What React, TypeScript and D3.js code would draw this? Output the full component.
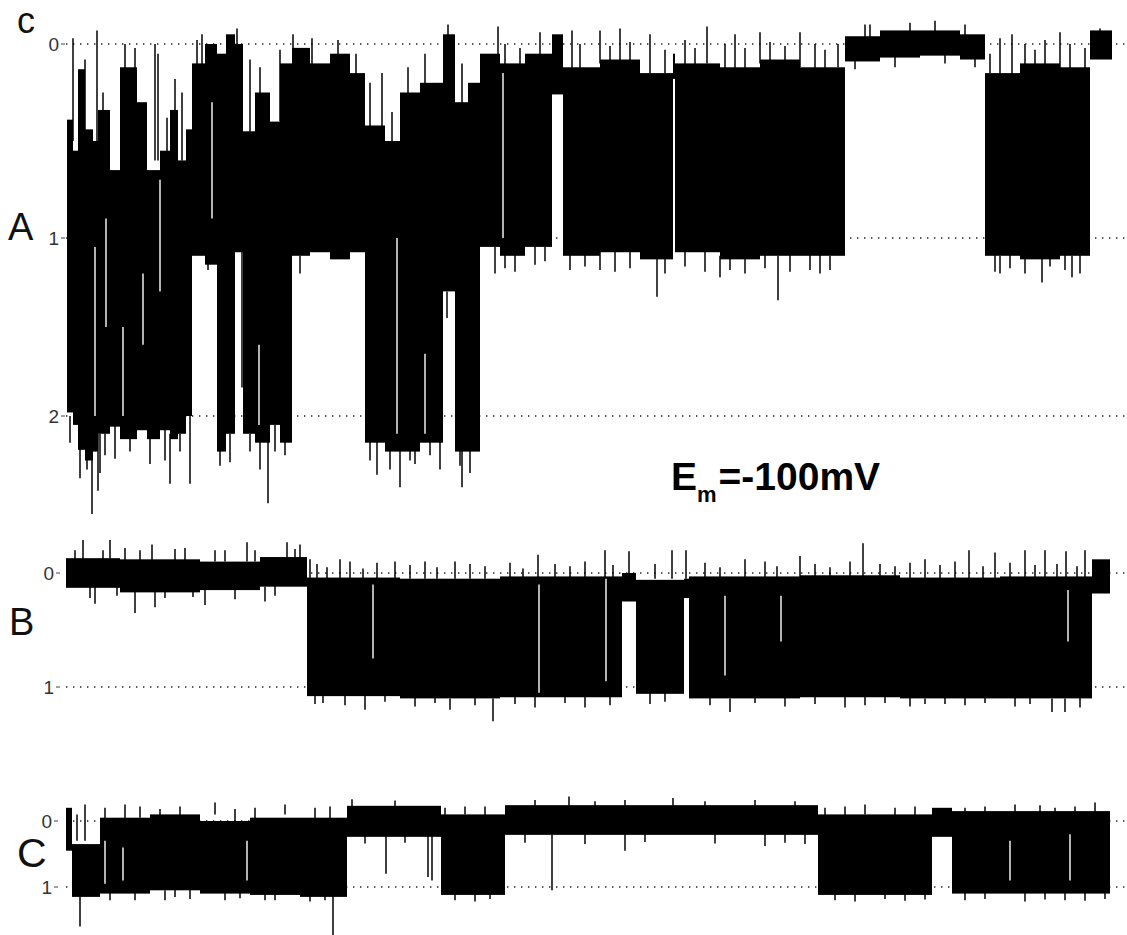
import React from "react";
import * as d3 from "d3";

// time axis (ms), shared by all three recordings
const timeDomain = [0, 1050];

// ---- Recording A : dwell blocks [t0, t1, upper level, lower level]
const aBlocks: number[][] = [
  [2, 8, 0.39, 1.98], [8, 13, 0.55, 2.05], [13, 20, 0.13, 2.19], [20, 28, 0.44, 2.25],
  [28, 33, 0.5, 2.2], [33, 45, 0.34, 2.1], [45, 55, 0.65, 2.06], [55, 72, 0.12, 2.13],
  [72, 82, 0.3, 2.08], [82, 95, 0.65, 2.13], [95, 105, 0.55, 2.08], [105, 113, 0.34, 2.13],
  [113, 121, 0.6, 2.1], [121, 127, 0.44, 2.0], [127, 140, 0.1, 1.1], [140, 152, 0.0, 1.15],
  [152, 161, 0.05, 2.2], [161, 170, -0.05, 2.1], [170, 178, 0.0, 1.08], [178, 190, 0.45, 2.1],
  [190, 205, 0.25, 2.15], [205, 215, 0.4, 2.05], [215, 227, 0.1, 2.15], [227, 245, 0.02, 1.1],
  [245, 265, 0.1, 1.08], [265, 285, 0.05, 1.12], [285, 300, 0.15, 1.08], [300, 320, 0.42, 2.15],
  [320, 335, 0.5, 2.2], [335, 355, 0.25, 2.2], [355, 378, 0.2, 2.15], [378, 390, -0.05, 1.3],
  [390, 403, 0.3, 2.2], [403, 415, 0.2, 2.2], [415, 435, 0.05, 1.05], [435, 460, 0.1, 1.1],
  [460, 487, 0.05, 1.05], [487, 498, -0.05, 0.26], [498, 535, 0.12, 1.1], [535, 575, 0.08, 1.08],
  [575, 608, 0.15, 1.12], [608, 610, 0.05, 0.18], [610, 655, 0.1, 1.08], [655, 695, 0.12, 1.12],
  [695, 735, 0.08, 1.1], [735, 780, 0.12, 1.1], [780, 815, -0.04, 0.09], [815, 855, -0.07, 0.07],
  [855, 895, -0.07, 0.06], [895, 920, -0.05, 0.08], [920, 955, 0.15, 1.1], [955, 995, 0.1, 1.12],
  [995, 1025, 0.12, 1.1], [1025, 1047, -0.07, 0.08],
];
// brief excursions beyond the band [t, from, to]
const aSpikes: number[][] = [
  [8, 0.5, -0.03], [20, 0.5, 0.08], [32, 0.5, -0.07], [38, 0.4, 0.25], [60, 0.2, 0.0],
  [70, 0.3, 0.02], [90, 0.6, 0.0], [93, 0.6, 0.05], [102, 0.6, 0.38], [110, 0.4, 0.18],
  [117, 0.6, 0.25], [132, 0.2, -0.02], [137, 0.2, -0.05], [172, 0.1, -0.08], [185, 0.5, 0.08],
  [195, 0.3, 0.12], [215, 0.4, 0.03], [228, 0.1, -0.05], [247, 0.15, -0.03], [273, 0.1, -0.02],
  [291, 0.2, 0.05], [305, 0.45, 0.2], [317, 0.45, 0.15], [327, 0.5, 0.35], [343, 0.3, 0.12],
  [360, 0.25, 0.05], [383, 0.0, -0.1], [397, 0.35, 0.1], [433, 0.1, -0.09], [475, 0.1, -0.06],
  [507, 0.15, -0.07], [535, 0.1, -0.07], [555, 0.1, -0.08], [585, 0.15, -0.05], [642, 0.1, -0.09],
  [670, 0.15, -0.05], [695, 0.1, -0.06], [735, 0.12, -0.06], [773, 0.12, 0.0], [805, 0.0, -0.1],
  [870, 0.0, -0.12], [935, 0.2, -0.03], [947, 0.2, -0.05], [980, 0.15, -0.02], [995, 0.15, -0.06],
  [1035, 0.0, -0.08],
  [15, 2.1, 2.35], [27, 2.2, 2.55], [33, 2.1, 2.42], [35, 2.1, 2.32], [105, 2.1, 2.38],
  [125, 2.0, 2.38], [143, 1.1, 1.18], [177, 1.05, 1.84], [203, 2.1, 2.49], [220, 2.1, 2.22],
  [235, 1.1, 1.2], [312, 2.1, 2.33], [335, 2.1, 2.4], [345, 2.1, 2.25], [375, 2.1, 2.3],
  [382, 1.3, 1.45], [397, 2.1, 2.4], [405, 2.1, 2.32], [430, 1.05, 1.2], [480, 1.05, 1.13],
  [535, 1.05, 1.18], [592, 1.1, 1.33], [655, 1.1, 1.22], [713, 1.1, 1.35], [765, 1.1, 1.18],
  [935, 1.1, 1.2], [977, 1.1, 1.25], [1007, 1.1, 1.22],
];
// smaller excursions along the edges of the bands [t, from, to]
const aFringe: number[][] = [
  [440, 1.05, 1.17], [450, 1.05, 1.19], [470, 1.0, 1.15], [505, 1.05, 1.18], [520, 1.05, 1.16],
  [550, 1.05, 1.19], [565, 1.05, 1.17], [600, 1.05, 1.2], [620, 1.05, 1.16], [640, 1.05, 1.19],
  [665, 1.05, 1.18], [680, 1.05, 1.2], [700, 1.05, 1.17], [725, 1.05, 1.19], [745, 1.05, 1.18],
  [755, 1.05, 1.2], [930, 1.05, 1.19], [945, 1.05, 1.17], [960, 1.05, 1.2], [985, 1.05, 1.16],
  [1000, 1.05, 1.18], [1015, 1.05, 1.2],
  [440, 0.15, 0.0], [455, 0.15, 0.02], [490, 0.1, -0.02], [515, 0.15, 0.0], [545, 0.15, 0.01],
  [565, 0.15, -0.01], [600, 0.15, 0.03], [620, 0.15, -0.02], [630, 0.15, 0.02], [660, 0.15, 0.0],
  [680, 0.15, 0.02], [705, 0.15, -0.01], [720, 0.15, 0.01], [750, 0.15, 0.0], [760, 0.15, 0.03],
  [925, 0.15, 0.05], [960, 0.15, 0.0], [970, 0.15, 0.03], [1005, 0.15, 0.0], [1020, 0.15, 0.02],
  [5, 2.0, 2.15], [22, 2.1, 2.3], [40, 2.1, 2.22], [50, 2.05, 2.24], [65, 2.1, 2.2],
  [85, 2.1, 2.27], [100, 2.05, 2.25], [115, 2.1, 2.2], [155, 2.1, 2.28], [165, 2.1, 2.26],
  [185, 2.1, 2.2], [195, 2.1, 2.3], [210, 2.05, 2.2], [305, 2.1, 2.25], [325, 2.1, 2.3],
  [350, 2.1, 2.27], [365, 2.1, 2.22], [395, 2.1, 2.28],
  [790, 0.05, 0.13], [800, -0.03, -0.1], [830, 0.05, 0.12], [845, -0.05, -0.11], [880, 0.05, 0.1],
  [900, -0.03, -0.1], [910, 0.05, 0.12],
];
// brief closings inside a band [t, from, to]
const aGaps: number[][] = [
  [30, 1.05, 2.0], [41, 0.9, 1.5], [58, 1.5, 2.0], [78, 1.2, 1.6], [95, 0.7, 1.3],
  [147, 0.3, 0.9], [194, 1.6, 2.05], [332, 1.0, 2.1], [360, 1.65, 2.1], [438, 0.15, 1.0],
];

// ---- Recording B
const bBlocks: number[][] = [
  [1, 55, -0.13, 0.13], [55, 135, -0.12, 0.17], [135, 195, -0.1, 0.15], [195, 242, -0.14, 0.12],
  [242, 335, 0.04, 1.08], [335, 435, 0.05, 1.1], [435, 557, 0.03, 1.09], [557, 571, 0.0, 0.25],
  [571, 619, 0.06, 1.06], [619, 624, 0.05, 0.22], [624, 735, 0.03, 1.1], [735, 835, 0.02, 1.09],
  [835, 935, 0.04, 1.1], [935, 1027, 0.03, 1.1], [1027, 1045, -0.12, 0.18],
];
const bSpikes: number[][] = [
  [18, -0.1, -0.29], [45, -0.1, -0.29], [60, -0.1, -0.22], [87, -0.1, -0.25], [120, -0.1, -0.22],
  [160, -0.1, -0.2], [182, -0.1, -0.27], [222, -0.1, -0.27], [235, -0.1, -0.25],
  [30, 0.12, 0.27], [70, 0.15, 0.35], [90, 0.15, 0.3], [140, 0.15, 0.28], [200, 0.12, 0.25],
  [245, 0.05, -0.12], [275, 0.05, -0.12], [330, 0.05, -0.1], [390, 0.05, -0.1], [473, 0.05, -0.16],
  [540, 0.05, -0.2], [564, 0.0, -0.19], [607, 0.05, -0.2], [621, 0.05, -0.2], [680, 0.05, -0.12],
  [735, 0.05, -0.15], [798, 0.05, -0.26], [860, 0.05, -0.12], [904, 0.05, -0.2], [930, 0.05, -0.18],
  [960, 0.05, -0.2], [980, 0.05, -0.2], [1001, 0.05, -0.19], [1020, 0.05, -0.2],
  [250, 1.08, 1.15], [300, 1.08, 1.2], [385, 1.1, 1.2], [428, 1.1, 1.3], [520, 1.08, 1.18],
  [665, 1.1, 1.22], [780, 1.08, 1.18], [860, 1.1, 1.15], [987, 1.1, 1.22], [1000, 1.1, 1.22],
];
const bFringe: number[][] = [
  [252, 0.05, -0.08], [262, 0.05, -0.05], [285, 0.05, -0.1], [298, 0.05, -0.04], [312, 0.05, -0.09],
  [345, 0.05, -0.07], [360, 0.05, -0.1], [372, 0.05, -0.05], [405, 0.05, -0.08], [420, 0.05, -0.06],
  [445, 0.05, -0.09], [458, 0.05, -0.04], [490, 0.05, -0.08], [505, 0.05, -0.06], [520, 0.05, -0.1],
  [548, 0.05, -0.07], [590, 0.05, -0.08], [640, 0.05, -0.09], [655, 0.05, -0.05], [700, 0.05, -0.1],
  [712, 0.05, -0.06], [750, 0.05, -0.08], [765, 0.05, -0.05], [785, 0.05, -0.1], [815, 0.05, -0.08],
  [830, 0.05, -0.06], [845, 0.05, -0.09], [875, 0.05, -0.07], [890, 0.05, -0.1], [918, 0.05, -0.06],
  [945, 0.05, -0.09], [970, 0.05, -0.07], [992, 0.05, -0.08], [1012, 0.05, -0.06],
  [258, 1.05, 1.14], [280, 1.05, 1.16], [320, 1.05, 1.13], [350, 1.05, 1.17], [370, 1.05, 1.14],
  [410, 1.05, 1.16], [450, 1.05, 1.15], [470, 1.05, 1.18], [500, 1.05, 1.14], [545, 1.05, 1.16],
  [585, 1.05, 1.15], [600, 1.05, 1.13], [645, 1.05, 1.16], [690, 1.05, 1.14], [720, 1.05, 1.17],
  [750, 1.05, 1.15], [800, 1.05, 1.16], [820, 1.05, 1.14], [845, 1.05, 1.17], [880, 1.05, 1.15],
  [900, 1.05, 1.16], [920, 1.05, 1.14], [950, 1.05, 1.17], [965, 1.05, 1.15], [1015, 1.05, 1.18],
  [10, -0.1, -0.2], [25, 0.1, 0.22], [38, -0.1, -0.2], [52, 0.1, 0.2], [75, -0.1, -0.2],
  [100, 0.1, 0.22], [110, -0.1, -0.21], [128, 0.1, 0.21], [150, -0.1, -0.2], [170, 0.1, 0.23],
  [190, -0.1, -0.2], [210, 0.1, 0.2], [230, -0.1, -0.21],
];
const bGaps: number[][] = [
  [308, 0.1, 0.75], [474, 0.1, 1.05], [541, 0.05, 0.95], [660, 0.2, 0.9], [716, 0.2, 0.6],
  [1003, 0.15, 0.6],
];

// ---- Recording C
const cBlocks: number[][] = [
  [1, 7, -0.2, 0.45], [7, 35, 0.35, 1.15], [35, 85, -0.05, 1.1], [85, 135, -0.1, 1.05],
  [135, 185, 0.0, 1.1], [185, 235, -0.05, 1.12], [235, 282, -0.05, 1.15], [282, 376, -0.23, 0.24],
  [376, 440, -0.1, 1.12], [440, 753, -0.24, 0.21], [753, 867, -0.1, 1.12], [867, 887, -0.2, 0.24],
  [887, 1045, -0.15, 1.1],
];
const cSpikes: number[][] = [
  [15, 1.1, 1.6], [268, 1.1, 1.73], [321, 0.2, 0.8], [363, 0.2, 0.85], [367, 0.2, 0.9],
  [487, 0.2, 1.05], [560, 0.2, 0.45], [700, 0.2, 0.38], [100, 1.05, 1.2], [200, 1.1, 1.2],
  [504, -0.2, -0.37], [608, -0.2, -0.35], [287, -0.2, -0.33], [20, 0.3, -0.25], [12, 0.3, -0.1],
  [60, 0.0, -0.25], [150, -0.1, -0.28], [220, -0.1, -0.25], [400, -0.1, -0.22], [800, -0.1, -0.25],
  [950, -0.1, -0.25], [1030, -0.1, -0.28],
];
const cFringe: number[][] = [
  [45, 1.05, 1.2], [70, 1.05, 1.2], [110, 1.0, 1.15], [125, 1.0, 1.18], [160, 1.05, 1.2],
  [175, 1.05, 1.17], [210, 1.05, 1.2], [245, 1.1, 1.22], [260, 1.1, 1.2], [390, 1.05, 1.2],
  [410, 1.05, 1.22], [425, 1.05, 1.18], [770, 1.05, 1.2], [790, 1.05, 1.22], [820, 1.05, 1.18],
  [840, 1.05, 1.21], [860, 1.05, 1.19], [900, 1.05, 1.2], [920, 1.05, 1.18], [960, 1.05, 1.22],
  [980, 1.05, 1.19], [1000, 1.05, 1.2], [1020, 1.05, 1.21], [1040, 1.05, 1.18],
  [40, 0.0, -0.2], [75, -0.05, -0.22], [95, -0.05, -0.18], [115, -0.05, -0.22], [170, 0.05, -0.18],
  [190, 0.0, -0.2], [250, 0.0, -0.2], [265, 0.0, -0.22], [380, -0.05, -0.2], [420, -0.05, -0.22],
  [760, -0.05, -0.2], [780, -0.05, -0.22], [830, -0.05, -0.2], [850, -0.05, -0.22], [900, -0.1, -0.2],
  [920, -0.1, -0.22], [975, -0.1, -0.24], [990, -0.1, -0.2], [1010, -0.1, -0.22],
  [300, 0.2, 0.34], [340, 0.2, 0.33], [460, 0.2, 0.33], [520, 0.2, 0.35], [580, 0.2, 0.32],
  [650, 0.2, 0.34], [720, 0.2, 0.33], [740, 0.2, 0.35],
  [330, -0.2, -0.31], [470, -0.2, -0.32], [530, -0.2, -0.3], [560, -0.2, -0.32], [640, -0.2, -0.3],
  [690, -0.2, -0.32], [730, -0.2, -0.3],
];
const cGaps: number[][] = [
  [40, 0.3, 0.95], [58, 0.4, 0.9], [182, 0.3, 0.9], [945, 0.3, 0.9], [1005, 0.2, 0.9],
];

// axis tick labels (number of open channels)
const aTicks = [0, 1, 2];
const bTicks = [0, 1];
const cTicks = [0, 1];
const voltageLabel = { main: "E", sub: "m", rest: "=-100mV" };

const FONT = "Liberation Sans, Arial, sans-serif";

function Trace({ blocks, spikes, fringe, gaps, y, x }: any) {
  return (
    <g>
      {blocks.map((b: number[], i: number) => (
        <rect key={"b" + i} x={x(b[0])} width={x(b[1]) - x(b[0])}
          y={y(b[2])} height={y(b[3]) - y(b[2])} fill="#000" />
      ))}
      {spikes.concat(fringe).map((s: number[], i: number) => (
        <line key={"s" + i} x1={x(s[0])} x2={x(s[0])} y1={y(s[1])} y2={y(s[2])}
          stroke="#000" strokeWidth={1.5} />
      ))}
      {gaps.map((g: number[], i: number) => (
        <line key={"g" + i} x1={x(g[0])} x2={x(g[0])} y1={y(g[1])} y2={y(g[2])}
          stroke="#fff" strokeWidth={1.4} />
      ))}
    </g>
  );
}

function Axis({ ticks, y, labelX }: any) {
  return (
    <g>
      {ticks.map((t: number) => (
        <g key={t}>
          <line x1={66} x2={1127} y1={y(t)} y2={y(t)} stroke="#222" strokeWidth={1.3}
            strokeDasharray="1.4,5.6" />
          <line x1={labelX + 2} x2={labelX + 6} y1={y(t)} y2={y(t)} stroke="#444" strokeWidth={1} />
          <text x={labelX} y={y(t) + 7} textAnchor="end" fontFamily={FONT} fontSize={19} fill="#333">
            {t}
          </text>
        </g>
      ))}
    </g>
  );
}

export default function App() {
  const x = d3.scaleLinear().domain(timeDomain).range([65, 1115]);
  const yA = d3.scaleLinear().domain([0, 1, 2]).range([44, 238, 416]);
  const yB = d3.scaleLinear().domain([0, 1]).range([573, 687]);
  const yC = d3.scaleLinear().domain([0, 1]).range([821, 887]);
  return (
    <svg width={1127} height={935} style={{ position: "absolute", left: 0, top: 0, background: "#fff" }}>
      <rect width={1127} height={935} fill="#fff" />
      <Axis ticks={aTicks} y={yA} labelX={59} />
      <Axis ticks={bTicks} y={yB} labelX={54} />
      <Axis ticks={cTicks} y={yC} labelX={52} />
      <Trace blocks={aBlocks} spikes={aSpikes} fringe={aFringe} gaps={aGaps} y={yA} x={x} />
      <Trace blocks={bBlocks} spikes={bSpikes} fringe={bFringe} gaps={bGaps} y={yB} x={x} />
      <Trace blocks={cBlocks} spikes={cSpikes} fringe={cFringe} gaps={cGaps} y={yC} x={x} />
      <text x={17} y={33} fontFamily={FONT} fontSize={36} fill="#111">c</text>
      <text x={8} y={240} fontFamily={FONT} fontSize={38} fill="#111">A</text>
      <text x={9} y={635} fontFamily={FONT} fontSize={38} fill="#111">B</text>
      <text x={17} y={867} fontFamily={FONT} fontSize={41} fill="#111">C</text>
      <text x={671} y={490} fontFamily={FONT} fontSize={39} fontWeight="bold" fill="#000">
        {voltageLabel.main}
        <tspan fontSize={22} dy={12}>{voltageLabel.sub}</tspan>
        <tspan fontSize={39} dy={-12} dx={2}>{voltageLabel.rest}</tspan>
      </text>
    </svg>
  );
}
